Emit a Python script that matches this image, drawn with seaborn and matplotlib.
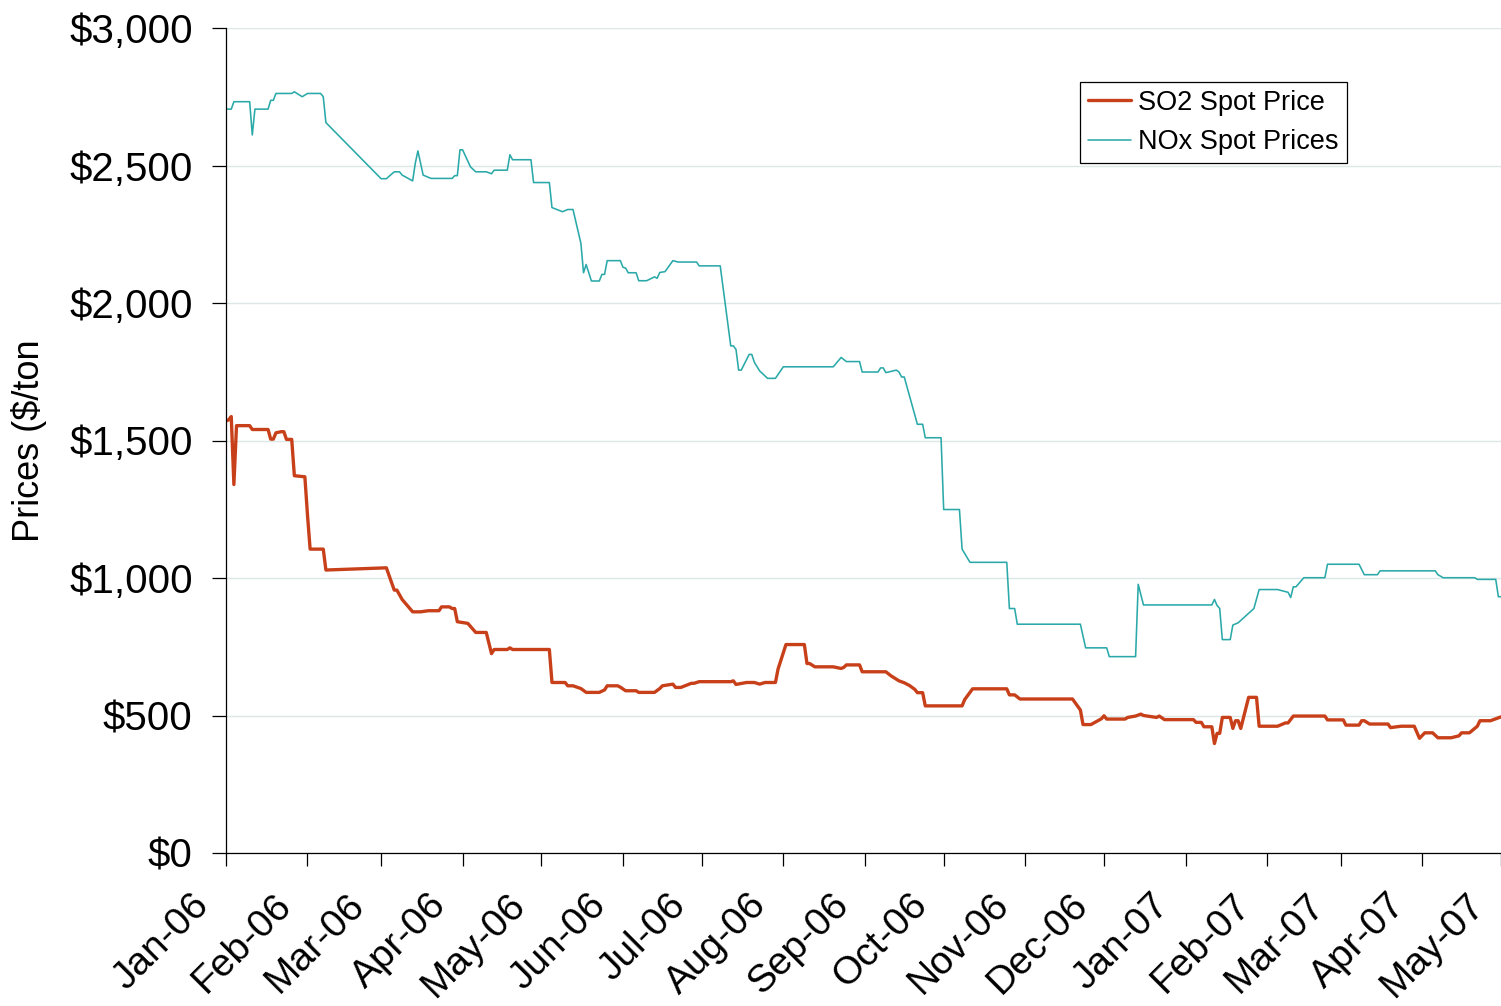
import matplotlib
matplotlib.use("Agg")
import matplotlib.pyplot as plt
import matplotlib.dates as mdates
import matplotlib.ticker as mticker
import matplotlib.transforms as mtransforms
import pandas as pd
import seaborn as sns

# ---------------- data ----------------
so2_dates = [
    "2006-01-01", "2006-01-02", "2006-01-03", "2006-01-04", "2006-01-05", "2006-01-10",
    "2006-01-11", "2006-01-17", "2006-01-18", "2006-01-19", "2006-01-20", "2006-01-22",
    "2006-01-23", "2006-01-24", "2006-01-26", "2006-01-27", "2006-01-31", "2006-02-01",
    "2006-02-02", "2006-02-07", "2006-02-08", "2006-03-03", "2006-03-06", "2006-03-07",
    "2006-03-09", "2006-03-13", "2006-03-16", "2006-03-19", "2006-03-23", "2006-03-24",
    "2006-03-27", "2006-03-28", "2006-03-29", "2006-03-30", "2006-04-03", "2006-04-06",
    "2006-04-10", "2006-04-12", "2006-04-13", "2006-04-18", "2006-04-19", "2006-04-20",
    "2006-05-04", "2006-05-05", "2006-05-10", "2006-05-11", "2006-05-13", "2006-05-16",
    "2006-05-18", "2006-05-23", "2006-05-25", "2006-05-26", "2006-05-30", "2006-05-31",
    "2006-06-02", "2006-06-06", "2006-06-07", "2006-06-13", "2006-06-15", "2006-06-16",
    "2006-06-20", "2006-06-21", "2006-06-23", "2006-06-27", "2006-06-28", "2006-06-30",
    "2006-07-12", "2006-07-13", "2006-07-14", "2006-07-18", "2006-07-21", "2006-07-23",
    "2006-07-25", "2006-07-29", "2006-07-30", "2006-08-02", "2006-08-09", "2006-08-10",
    "2006-08-11", "2006-08-13", "2006-08-20", "2006-08-23", "2006-08-24", "2006-08-25",
    "2006-08-30", "2006-08-31", "2006-09-09", "2006-09-11", "2006-09-14", "2006-09-16",
    "2006-09-18", "2006-09-20", "2006-09-21", "2006-09-23", "2006-09-24", "2006-10-08",
    "2006-10-09", "2006-10-12", "2006-10-25", "2006-10-26", "2006-10-28", "2006-10-30",
    "2006-11-19", "2006-11-22", "2006-11-23", "2006-11-26", "2006-11-30", "2006-12-01",
    "2006-12-02", "2006-12-09", "2006-12-10", "2006-12-13", "2006-12-15", "2006-12-16",
    "2006-12-21", "2006-12-22", "2006-12-24", "2007-01-04", "2007-01-05", "2007-01-07",
    "2007-01-08", "2007-01-11", "2007-01-12", "2007-01-13", "2007-01-14", "2007-01-15",
    "2007-01-18", "2007-01-19", "2007-01-20", "2007-01-21", "2007-01-22", "2007-01-25",
    "2007-01-28", "2007-01-29", "2007-02-05", "2007-02-08", "2007-02-09", "2007-02-11",
    "2007-02-23", "2007-02-24", "2007-03-02", "2007-03-03", "2007-03-08", "2007-03-09",
    "2007-03-10", "2007-03-12", "2007-03-19", "2007-03-20", "2007-03-24", "2007-03-29",
    "2007-03-31", "2007-04-02", "2007-04-05", "2007-04-07", "2007-04-12", "2007-04-15",
    "2007-04-16", "2007-04-19", "2007-04-22", "2007-04-23", "2007-04-27", "2007-05-01",
]
so2_values = [
    1571, 1575, 1587, 1340, 1554, 1554,
    1540, 1540, 1505, 1505, 1528, 1532,
    1532, 1504, 1504, 1372, 1368, 1229,
    1105, 1105, 1029, 1037, 956, 956,
    922, 877, 877, 881, 881, 895,
    895, 889, 889, 841, 835, 802,
    802, 725, 740, 740, 746, 740,
    740, 620, 620, 608, 608, 598,
    584, 584, 593, 608, 608, 603,
    590, 590, 584, 584, 598, 608,
    614, 602, 602, 617, 617, 623,
    623, 626, 613, 620, 620, 614,
    620, 620, 669, 758, 758, 689,
    689, 677, 677, 671, 675, 684,
    684, 659, 659, 644, 626, 619,
    609, 595, 583, 583, 535, 535,
    558, 597, 597, 575, 575, 560,
    560, 520, 467, 467, 488, 499,
    487, 487, 493, 498, 505, 500,
    493, 498, 485, 485, 475, 475,
    459, 459, 398, 435, 435, 493,
    493, 453, 481, 481, 453, 566,
    566, 461, 461, 473, 473, 498,
    498, 484, 484, 465, 465, 481,
    481, 469, 469, 456, 461, 461,
    417, 437, 437, 419, 419, 426,
    437, 437, 461, 481, 481, 495,
]

nox_dates = [
    "2006-01-01", "2006-01-03", "2006-01-04", "2006-01-10", "2006-01-11", "2006-01-12",
    "2006-01-17", "2006-01-18", "2006-01-19", "2006-01-20", "2006-01-26", "2006-01-27",
    "2006-01-30", "2006-02-01", "2006-02-06", "2006-02-07", "2006-02-08", "2006-03-01",
    "2006-03-03", "2006-03-06", "2006-03-08", "2006-03-09", "2006-03-10", "2006-03-13",
    "2006-03-14", "2006-03-15", "2006-03-17", "2006-03-20", "2006-03-28", "2006-03-29",
    "2006-03-30", "2006-03-31", "2006-04-01", "2006-04-04", "2006-04-06", "2006-04-10",
    "2006-04-12", "2006-04-13", "2006-04-18", "2006-04-19", "2006-04-20", "2006-04-27",
    "2006-04-28", "2006-05-04", "2006-05-05", "2006-05-09", "2006-05-11", "2006-05-13",
    "2006-05-16", "2006-05-17", "2006-05-18", "2006-05-20", "2006-05-23", "2006-05-24",
    "2006-05-25", "2006-05-26", "2006-05-31", "2006-06-01", "2006-06-02", "2006-06-03",
    "2006-06-06", "2006-06-07", "2006-06-10", "2006-06-13", "2006-06-14", "2006-06-15",
    "2006-06-17", "2006-06-20", "2006-06-22", "2006-06-29", "2006-06-30", "2006-07-08",
    "2006-07-12", "2006-07-13", "2006-07-14", "2006-07-15", "2006-07-16", "2006-07-19",
    "2006-07-20", "2006-07-21", "2006-07-23", "2006-07-26", "2006-07-29", "2006-08-01",
    "2006-08-20", "2006-08-23", "2006-08-25", "2006-08-30", "2006-08-31", "2006-09-06",
    "2006-09-07", "2006-09-08", "2006-09-09", "2006-09-10", "2006-09-13", "2006-09-14",
    "2006-09-15", "2006-09-16", "2006-09-21", "2006-09-23", "2006-09-24", "2006-09-30",
    "2006-10-01", "2006-10-07", "2006-10-08", "2006-10-11", "2006-10-25", "2006-10-26",
    "2006-10-28", "2006-10-29", "2006-11-22", "2006-11-24", "2006-12-02", "2006-12-03",
    "2006-12-13", "2006-12-14", "2006-12-16", "2007-01-11", "2007-01-12", "2007-01-13",
    "2007-01-14", "2007-01-15", "2007-01-18", "2007-01-19", "2007-01-21", "2007-01-27",
    "2007-01-29", "2007-02-05", "2007-02-09", "2007-02-10", "2007-02-11", "2007-02-12",
    "2007-02-15", "2007-02-23", "2007-02-24", "2007-03-08", "2007-03-10", "2007-03-15",
    "2007-03-16", "2007-04-06", "2007-04-07", "2007-04-09", "2007-04-21", "2007-04-22",
    "2007-04-29", "2007-04-30", "2007-05-01",
]
nox_values = [
    2705, 2705, 2732, 2732, 2611, 2705,
    2705, 2737, 2737, 2762, 2762, 2768,
    2750, 2762, 2762, 2750, 2656, 2452,
    2452, 2477, 2477, 2465, 2460, 2444,
    2508, 2553, 2465, 2453, 2453, 2463,
    2463, 2557, 2557, 2495, 2477, 2477,
    2470, 2483, 2483, 2539, 2521, 2521,
    2438, 2438, 2347, 2332, 2340, 2340,
    2217, 2110, 2140, 2080, 2080, 2104,
    2104, 2154, 2154, 2130, 2127, 2110,
    2110, 2081, 2081, 2095, 2090, 2111,
    2114, 2154, 2149, 2149, 2135, 2135,
    1844, 1844, 1831, 1756, 1756, 1813,
    1813, 1784, 1753, 1726, 1726, 1768,
    1768, 1802, 1787, 1787, 1749, 1749,
    1764, 1764, 1747, 1749, 1756, 1749,
    1731, 1731, 1559, 1559, 1510, 1510,
    1249, 1249, 1105, 1057, 1057, 889,
    889, 832, 832, 746, 746, 714,
    714, 977, 902, 902, 922, 900,
    889, 776, 776, 829, 837, 889,
    958, 958, 948, 929, 968, 968,
    1001, 1001, 1050, 1050, 1012, 1012,
    1026, 1026, 1012, 1001, 1001, 995,
    995, 932, 932,
]

series_names = ["SO2 Spot Price", "NOx Spot Prices"]
y_ticks = [0, 500, 1000, 1500, 2000, 2500, 3000]
x_range = ["2006-01-01", "2007-05-01"]

# ---------------- frame ----------------
df = pd.concat([
    pd.DataFrame({"date": pd.to_datetime(so2_dates), "price": so2_values, "series": series_names[0]}),
    pd.DataFrame({"date": pd.to_datetime(nox_dates), "price": nox_values, "series": series_names[1]}),
], ignore_index=True)

# ---------------- style ----------------
sns.set_theme(style="white")
plt.rcParams["font.family"] = ["Liberation Sans", "DejaVu Sans"]
plt.rcParams["text.color"] = "black"
plt.rcParams["axes.labelcolor"] = "black"
plt.rcParams["xtick.color"] = "black"
plt.rcParams["ytick.color"] = "black"

colors = {series_names[0]: "#C8401A", series_names[1]: "#2BA9A9"}

fig = plt.figure(figsize=(15.01, 10.06), dpi=100)
ax = fig.add_axes([226 / 1501, 153 / 1006, 1275 / 1501, 825 / 1006])

sns.lineplot(data=df, x="date", y="price", hue="series", palette=colors,
             hue_order=series_names, ax=ax, estimator=None, sort=True, legend=False)
ax.lines[0].set_linewidth(2.4)
ax.lines[1].set_linewidth(1.15)

ax.set_xlim(pd.Timestamp(x_range[0]), pd.Timestamp(x_range[1]))
ax.set_ylim(0, 3000)
ax.set_yticks(y_ticks)
ax.yaxis.set_major_formatter(mticker.FuncFormatter(lambda v, p: f"${v:,.0f}"))
ax.xaxis.set_major_locator(mdates.MonthLocator())
ax.xaxis.set_major_formatter(mdates.DateFormatter("%b-%y"))

ax.grid(axis="y", color="#DCE8E8", linewidth=1.0)
ax.grid(axis="x", visible=False)
for s in ["top", "right"]:
    ax.spines[s].set_visible(False)
for s in ["left", "bottom"]:
    ax.spines[s].set_color("black")
    ax.spines[s].set_linewidth(0.9)

ax.tick_params(axis="y", direction="out", length=10, width=0.9, colors="black",
               labelsize=29, pad=14, left=True)
ax.tick_params(axis="x", direction="out", length=9.5, width=0.9, colors="black",
               labelsize=28, pad=24, bottom=True)
shift = mtransforms.ScaledTranslation(-22 / 100, 0, fig.dpi_scale_trans)
for lab in ax.get_xticklabels():
    lab.set_rotation(45)
    lab.set_ha("right")
    lab.set_va("center")
    lab.set_rotation_mode("anchor")
    lab.set_transform(lab.get_transform() + shift)

ax.set_xlabel("")
ax.set_ylabel("Prices ($/ton", fontsize=26, color="black")
ax.yaxis.set_label_coords(-0.140, 0.5)

handles = [plt.Line2D([], [], color=colors[series_names[0]], lw=2.4),
           plt.Line2D([], [], color=colors[series_names[1]], lw=1.15)]
leg = ax.legend(handles, series_names, loc="upper right", bbox_to_anchor=(0.879, 0.935),
                fontsize=19.5, frameon=True, fancybox=False, framealpha=1,
                edgecolor="black", borderpad=0.3, handlelength=1.6,
                handletextpad=0.25, labelspacing=0.5, borderaxespad=0)
leg.get_frame().set_linewidth(0.9)
for t in leg.get_texts():
    t.set_color("black")

fig.savefig("out.png", dpi=100)
